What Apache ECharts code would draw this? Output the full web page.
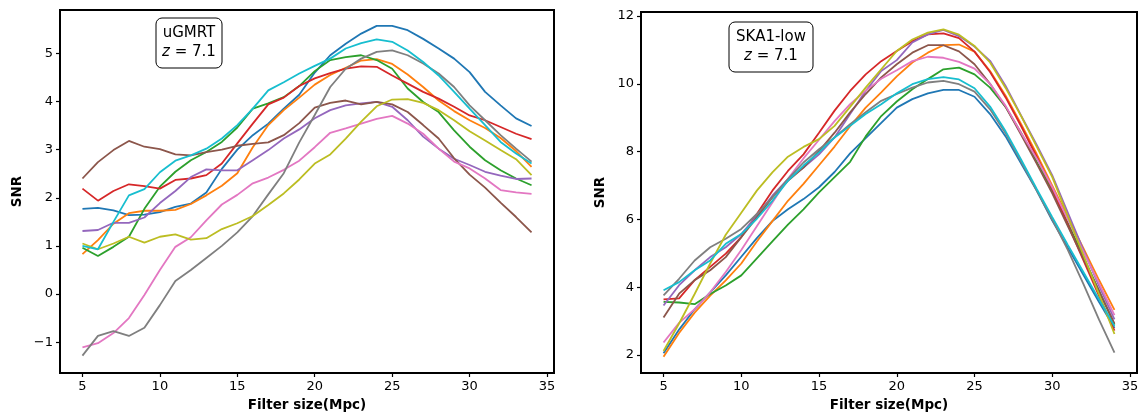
<!DOCTYPE html>
<html>
<head>
<meta charset="utf-8">
<script src="https://cdn.jsdelivr.net/npm/echarts@6/dist/echarts.min.js"></script>
<style>
  html, body { margin: 0; padding: 0; background: #fff; }
  #chart { width: 1141px; height: 412px; }
</style>
</head>
<body>
<div id="chart"></div>
<script>
// Filter sizes (Mpc) shared by both panels
const filterSize = [5, 6, 7, 8, 9, 10, 11, 12, 13, 14, 15, 16, 17, 18, 19, 20, 21, 22, 23, 24, 25, 26, 27, 28, 29, 30, 31, 32, 33, 34];

// uGMRT, z = 7.1 : SNR curves
const ugmrtBlue   = [1.77, 1.79, 1.74, 1.64, 1.65, 1.70, 1.81, 1.88, 2.11, 2.60, 3.00, 3.30, 3.54, 3.85, 4.14, 4.60, 4.96, 5.20, 5.41, 5.57, 5.57, 5.48, 5.30, 5.10, 4.89, 4.61, 4.20, 3.92, 3.65, 3.49];
const ugmrtOrange = [0.83, 1.12, 1.46, 1.68, 1.73, 1.73, 1.75, 1.87, 2.05, 2.25, 2.51, 3.05, 3.51, 3.82, 4.08, 4.35, 4.55, 4.70, 4.85, 4.88, 4.78, 4.56, 4.30, 4.02, 3.80, 3.61, 3.45, 3.24, 2.97, 2.64];
const ugmrtGreen  = [0.96, 0.79, 0.98, 1.19, 1.77, 2.23, 2.54, 2.78, 2.95, 3.16, 3.46, 3.85, 3.96, 4.09, 4.32, 4.63, 4.86, 4.92, 4.96, 4.86, 4.68, 4.27, 3.99, 3.78, 3.40, 3.06, 2.78, 2.57, 2.40, 2.26];
const ugmrtRed    = [2.19, 1.94, 2.14, 2.28, 2.24, 2.19, 2.37, 2.40, 2.47, 2.71, 3.13, 3.54, 3.94, 4.08, 4.32, 4.48, 4.59, 4.68, 4.73, 4.72, 4.54, 4.37, 4.20, 4.06, 3.89, 3.71, 3.61, 3.47, 3.33, 3.22];
const ugmrtPurple = [1.31, 1.33, 1.48, 1.48, 1.59, 1.89, 2.14, 2.43, 2.59, 2.57, 2.57, 2.78, 2.99, 3.23, 3.42, 3.65, 3.82, 3.92, 3.96, 3.99, 3.89, 3.61, 3.27, 3.02, 2.81, 2.68, 2.54, 2.46, 2.39, 2.40];
const ugmrtBrown  = [2.40, 2.74, 2.99, 3.18, 3.06, 3.01, 2.90, 2.88, 2.95, 3.00, 3.08, 3.12, 3.15, 3.30, 3.55, 3.87, 3.97, 4.02, 3.94, 3.99, 3.94, 3.78, 3.51, 3.23, 2.82, 2.48, 2.21, 1.90, 1.60, 1.28];
const ugmrtPink   = [-1.11, -1.02, -0.81, -0.50, -0.02, 0.50, 0.98, 1.18, 1.53, 1.86, 2.06, 2.30, 2.42, 2.58, 2.77, 3.05, 3.35, 3.44, 3.54, 3.64, 3.70, 3.54, 3.33, 3.02, 2.75, 2.61, 2.40, 2.16, 2.11, 2.08];
const ugmrtGray   = [-1.28, -0.87, -0.77, -0.87, -0.70, -0.23, 0.27, 0.50, 0.75, 1.00, 1.28, 1.62, 2.07, 2.51, 3.15, 3.72, 4.30, 4.68, 4.89, 5.03, 5.06, 4.96, 4.79, 4.58, 4.30, 3.92, 3.61, 3.30, 3.02, 2.75];
const ugmrtOlive  = [1.05, 0.93, 1.05, 1.19, 1.07, 1.19, 1.24, 1.13, 1.16, 1.35, 1.47, 1.62, 1.85, 2.09, 2.38, 2.71, 2.90, 3.23, 3.58, 3.90, 4.04, 4.05, 3.97, 3.82, 3.61, 3.38, 3.19, 2.99, 2.80, 2.47];
const ugmrtCyan   = [1.00, 0.93, 1.50, 2.05, 2.18, 2.53, 2.77, 2.88, 3.02, 3.23, 3.51, 3.85, 4.23, 4.40, 4.58, 4.74, 4.89, 5.10, 5.21, 5.29, 5.24, 5.06, 4.82, 4.54, 4.20, 3.85, 3.51, 3.16, 2.92, 2.71];

// SKA1-low, z = 7.1 : SNR curves
const skaBlue   = [2.05, 2.75, 3.35, 3.85, 4.35, 4.90, 5.45, 5.95, 6.30, 6.60, 6.95, 7.40, 7.95, 8.40, 8.85, 9.30, 9.55, 9.72, 9.82, 9.82, 9.62, 9.11, 8.45, 7.65, 6.85, 5.97, 5.17, 4.37, 3.57, 2.80];
const skaOrange = [1.95, 2.65, 3.25, 3.75, 4.20, 4.70, 5.35, 5.95, 6.55, 7.05, 7.60, 8.15, 8.75, 9.30, 9.75, 10.22, 10.63, 10.92, 11.14, 11.16, 10.95, 10.38, 9.65, 8.81, 7.93, 7.00, 6.07, 5.15, 4.22, 3.33];
const skaGreen  = [3.57, 3.55, 3.50, 3.80, 4.05, 4.35, 4.85, 5.35, 5.85, 6.30, 6.80, 7.25, 7.70, 8.45, 9.05, 9.48, 9.84, 10.14, 10.43, 10.48, 10.28, 9.89, 9.32, 8.55, 7.70, 6.85, 5.90, 4.90, 3.90, 2.90];
const skaRed    = [3.64, 3.67, 4.21, 4.60, 4.99, 5.48, 6.16, 6.85, 7.43, 7.92, 8.56, 9.21, 9.79, 10.28, 10.67, 10.97, 11.26, 11.46, 11.49, 11.35, 10.95, 10.35, 9.60, 8.75, 7.85, 6.90, 5.85, 4.80, 3.75, 2.72];
const skaPurple = [3.46, 4.06, 4.50, 4.89, 5.18, 5.57, 6.11, 6.70, 7.19, 7.53, 7.92, 8.42, 9.11, 9.79, 10.38, 10.70, 11.22, 11.46, 11.59, 11.41, 11.10, 10.68, 9.94, 9.06, 8.20, 7.30, 6.20, 5.10, 4.05, 3.05];
const skaBrown  = [3.11, 3.81, 4.21, 4.50, 4.89, 5.48, 6.06, 6.65, 7.14, 7.53, 8.02, 8.56, 9.16, 9.70, 10.19, 10.58, 10.92, 11.14, 11.14, 10.96, 10.58, 10.00, 9.32, 8.50, 7.65, 6.77, 5.80, 4.85, 3.90, 2.93];
const skaPink   = [2.37, 2.95, 3.35, 3.85, 4.45, 5.10, 5.80, 6.50, 7.20, 7.80, 8.35, 8.90, 9.40, 9.80, 10.15, 10.40, 10.67, 10.80, 10.77, 10.65, 10.45, 10.00, 9.35, 8.55, 7.80, 6.95, 6.00, 5.05, 4.12, 3.18];
const skaGray   = [3.76, 4.25, 4.79, 5.18, 5.43, 5.72, 6.16, 6.65, 7.19, 7.68, 8.07, 8.42, 8.81, 9.16, 9.50, 9.70, 9.89, 10.04, 10.09, 9.99, 9.77, 9.25, 8.54, 7.71, 6.85, 6.00, 5.10, 4.10, 3.05, 2.07];
const skaOlive  = [2.12, 2.93, 3.80, 4.70, 5.55, 6.20, 6.85, 7.39, 7.85, 8.14, 8.37, 8.76, 9.32, 9.89, 10.43, 10.97, 11.31, 11.51, 11.61, 11.45, 11.12, 10.63, 9.88, 9.05, 8.15, 7.25, 6.10, 4.95, 3.80, 2.62];
const skaCyan   = [3.91, 4.15, 4.50, 4.79, 5.28, 5.57, 6.02, 6.55, 7.14, 7.59, 7.98, 8.42, 8.76, 9.11, 9.40, 9.72, 9.99, 10.14, 10.20, 10.13, 9.87, 9.33, 8.60, 7.76, 6.90, 6.07, 5.25, 4.45, 3.65, 2.85];

// Tick positions
const xTicks = [5, 10, 15, 20, 25, 30, 35];
const ugmrtYTicks = [-1, 0, 1, 2, 3, 4, 5];
const skaYTicks = [2, 4, 6, 8, 10, 12];

const palette = ['#1f77b4', '#ff7f0e', '#2ca02c', '#d62728', '#9467bd',
                 '#8c564b', '#e377c2', '#7f7f7f', '#bcbd22', '#17becf'];

const ugmrtSeries = [ugmrtBlue, ugmrtOrange, ugmrtGreen, ugmrtRed, ugmrtPurple,
                     ugmrtBrown, ugmrtPink, ugmrtGray, ugmrtOlive, ugmrtCyan];
const skaSeries = [skaBlue, skaOrange, skaGreen, skaRed, skaPurple,
                   skaBrown, skaPink, skaGray, skaOlive, skaCyan];

const FONT = 'DejaVu Sans';
const fmtTick = v => (v < 0 ? '\u2212' + Math.abs(v) : String(v));

function xAxisFor(gridIndex) {
  return {
    type: 'value', gridIndex, min: 3.55, max: 35.45, position: 'bottom',
    name: 'Filter size(Mpc)', nameLocation: 'middle', nameGap: 25,
    nameTextStyle: { fontFamily: FONT, fontWeight: 'bold', fontSize: 13.5, color: '#000' },
    axisLine: { show: true, onZero: false, lineStyle: { color: '#000', width: 2 } },
    axisTick: { show: true, customValues: xTicks, length: 4, lineStyle: { color: '#000', width: 1.2 } },
    axisLabel: { customValues: xTicks, fontFamily: FONT, fontSize: 13, color: '#000', margin: 7 },
    splitLine: { show: false }
  };
}

function yAxisFor(gridIndex, min, max, ticks, gap) {
  return {
    type: 'value', gridIndex, min, max, position: 'left',
    name: 'SNR', nameLocation: 'middle', nameGap: gap, nameRotate: 90,
    nameTextStyle: { fontFamily: FONT, fontWeight: 'bold', fontSize: 13.5, color: '#000' },
    axisLine: { show: true, onZero: false, lineStyle: { color: '#000', width: 2 } },
    axisTick: { show: true, customValues: ticks, length: 4, lineStyle: { color: '#000', width: 1.2 } },
    axisLabel: { customValues: ticks, formatter: fmtTick, fontFamily: FONT, fontSize: 13, color: '#000', margin: 7 },
    splitLine: { show: false }
  };
}

function lines(seriesList, idx) {
  return seriesList.map((vals, i) => ({
    type: 'line', xAxisIndex: idx, yAxisIndex: idx,
    data: filterSize.map((x, k) => [x, vals[k]]),
    showSymbol: false, symbol: 'none', silent: true,
    lineStyle: { color: palette[i], width: 1.8 },
    itemStyle: { color: palette[i] },
    z: 2 + i
  }));
}

function labelBox(cx, top, w, h, firstLine) {
  return {
    type: 'group',
    children: [
      { type: 'rect', shape: { x: cx - w / 2, y: top, width: w, height: h, r: 6 },
        style: { fill: '#fff', stroke: '#000', lineWidth: 1 }, z: 20 },
      { type: 'text', x: cx, y: top + h / 2, z: 21,
        style: {
          text: '{a|' + firstLine + '}\n{i|z}{a| = 7.1}',
          align: 'center', verticalAlign: 'middle',
          rich: {
            a: { fontFamily: FONT, fontSize: 15, lineHeight: 19, fill: '#000' },
            i: { fontFamily: FONT, fontSize: 15, lineHeight: 19, fontStyle: 'italic', fill: '#000' }
          }
        } }
    ]
  };
}

const chart = echarts.init(document.getElementById('chart'), null, { renderer: 'canvas' });
chart.setOption({
  backgroundColor: '#fff',
  animation: false,
  grid: [
    { left: 60, top: 10, width: 494, height: 363, outerBoundsMode: 'none', containLabel: false,
      show: true, borderColor: '#000', borderWidth: 2, backgroundColor: 'transparent' },
    { left: 641, top: 12, width: 496, height: 361, outerBoundsMode: 'none', containLabel: false,
      show: true, borderColor: '#000', borderWidth: 2, backgroundColor: 'transparent' }
  ],
  xAxis: [xAxisFor(0), xAxisFor(1)],
  yAxis: [
    yAxisFor(0, -1.64, 5.9, ugmrtYTicks, 36),
    yAxisFor(1, 1.47, 12.12, skaYTicks, 34)
  ],
  series: [...lines(ugmrtSeries, 0), ...lines(skaSeries, 1)],
  graphic: [
    labelBox(189, 18, 66, 50, 'uGMRT'),
    labelBox(771, 22, 84, 50, 'SKA1-low')
  ]
});
</script>
</body>
</html>
